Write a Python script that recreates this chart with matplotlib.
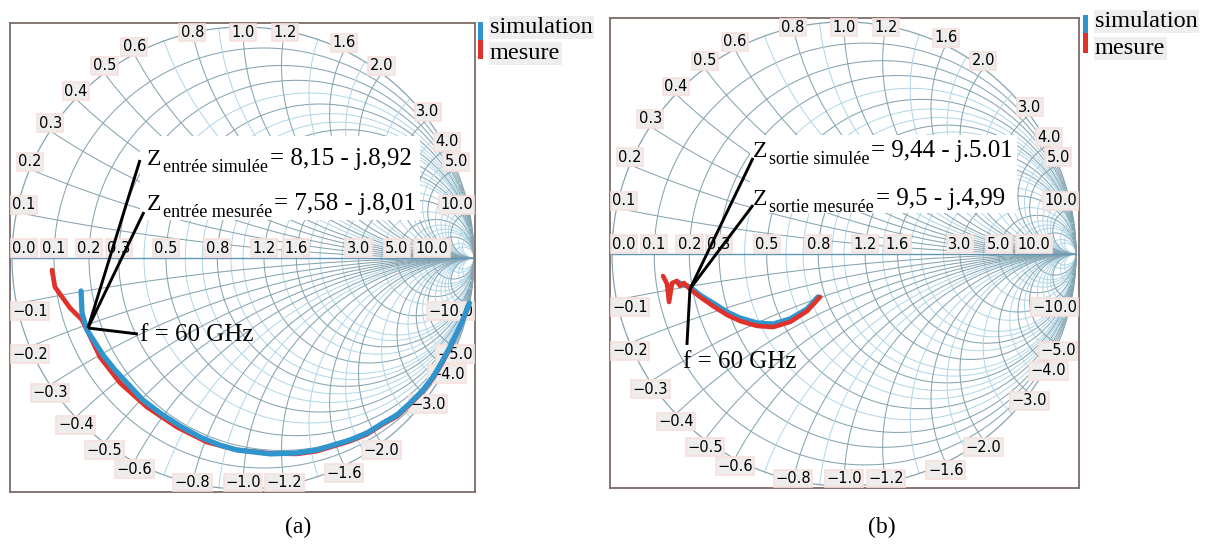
import numpy as np
import matplotlib
matplotlib.use("Agg")
import matplotlib.pyplot as plt
from matplotlib.patches import Rectangle

SERIF = "Liberation Serif"
SANS = "DejaVu Sans"
SIM_COLOR = "#2f95cf"
MES_COLOR = "#e0322b"
GRID_MAJOR = "#86a4b0"
GRID_MINOR = "#afd5e7"

# Smith chart grid values (normalised impedance)
r_major = [0.1, 0.2, 0.3, 0.5, 0.8, 1.2, 1.6, 3.0, 5.0, 10.0]
r_minor = [0.4, 0.6, 0.7, 0.9, 1.0, 1.4, 1.8, 2.0, 2.5, 4.0, 6.0, 7.0, 8.0, 15.0, 20.0]
x_major = [0.1, 0.2, 0.3, 0.4, 0.5, 0.6, 0.8, 1.0, 1.2, 1.6, 2.0, 3.0, 4.0, 5.0, 10.0]
x_minor = [0.7, 0.9, 1.4, 1.8, 2.5, 3.5, 4.5, 6.0, 7.0, 8.0, 9.0, 15.0, 20.0]

# (a) input reflection coefficient (Re, Im of gamma)
a_sim_re = [-0.701, -0.697, -0.675, -0.606, -0.554, -0.502, -0.433, -0.359, -0.273,
            -0.186, -0.100, -0.026, 0.117, 0.234, 0.320, 0.463, 0.537, 0.606, 0.667,
            0.723, 0.775, 0.823, 0.861, 0.896, 0.952, 0.980]
a_sim_im = [-0.143, -0.238, -0.312, -0.420, -0.485, -0.541, -0.615, -0.671, -0.727,
            -0.775, -0.810, -0.831, -0.848, -0.844, -0.831, -0.788, -0.758, -0.714, -0.680,
            -0.628, -0.576, -0.515, -0.450, -0.385, -0.268, -0.195]
a_mes_re = [-0.827, -0.814, -0.749, -0.697, -0.675, -0.619, -0.532, -0.416, -0.286,
            -0.156, -0.026, 0.117, 0.234, 0.320, 0.463, 0.537, 0.606, 0.667, 0.723,
            0.775, 0.823, 0.861, 0.896, 0.950, 0.978]
a_mes_im = [-0.052, -0.126, -0.216, -0.268, -0.312, -0.429, -0.541, -0.645, -0.732,
            -0.797, -0.831, -0.846, -0.848, -0.836, -0.793, -0.763, -0.719, -0.685, -0.633,
            -0.580, -0.520, -0.456, -0.390, -0.273, -0.200]
a_f60 = (-0.671, -0.303)

# (b) output reflection coefficient
b_sim_re = [-0.720, -0.664, -0.621, -0.565, -0.504, -0.448, -0.375, -0.306, -0.233, -0.159, -0.112]
b_sim_im = [-0.121, -0.142, -0.177, -0.211, -0.250, -0.276, -0.297, -0.302, -0.280, -0.237, -0.185]
b_mes_re = [-0.780, -0.763, -0.754, -0.741, -0.720, -0.707, -0.690, -0.664, -0.621,
            -0.565, -0.504, -0.448, -0.375, -0.306, -0.233, -0.159, -0.103]
b_mes_im = [-0.095, -0.129, -0.207, -0.125, -0.116, -0.138, -0.125, -0.151, -0.185,
            -0.224, -0.263, -0.289, -0.310, -0.315, -0.293, -0.246, -0.185]
b_f60 = (-0.664, -0.151)

a_names = ["entrée simulée", "entrée mesurée"]
a_values = ["= 8,15 - j.8,92", "= 7,58 - j.8,01"]
b_names = ["sortie simulée", "sortie mesurée"]
b_values = ["= 9,44 - j.5.01", "= 9,5 - j.4,99"]
freq_label = "f = 60 GHz"
legend_labels = ["simulation", "mesure"]
panel_tags = ["(a)", "(b)"]

W, H = 1207, 551


def gamma(z):
    return (z - 1) / (z + 1)


def draw_grid(ax):
    t = np.linspace(0, 2 * np.pi, 500)
    rr = np.concatenate([np.linspace(0, 2, 300), np.logspace(np.log10(2), 4, 300)])
    for vals, col, lw in ((r_minor, GRID_MINOR, 0.7), (r_major, GRID_MAJOR, 0.75)):
        for r in vals:
            c, rad = r / (1 + r), 1 / (1 + r)
            ax.plot(c + rad * np.cos(t), rad * np.sin(t), color=col, lw=lw, zorder=1)
    for vals, col, lw in ((x_minor, GRID_MINOR, 0.7), (x_major, GRID_MAJOR, 0.75)):
        for x in vals:
            for s in (1, -1):
                g = gamma(rr + 1j * s * x)
                ax.plot(g.real, g.imag, color=col, lw=lw, zorder=1)
    ax.plot(np.cos(t), np.sin(t), color=GRID_MAJOR, lw=0.9, zorder=1)
    ax.plot([-1, 1], [0, 0], color="#5f95b8", lw=1.0, zorder=1.5)


def draw_labels(ax):
    texts = []
    box = dict(boxstyle="square,pad=0.1", fc="#efecec", ec="#f7e0dc", lw=1.2)
    for x in x_major:
        for s in (1, -1):
            g = gamma(1j * s * x)
            lab = ("%.1f" % x) if s > 0 else ("\u2212%.1f" % x)
            texts.append(ax.text(g.real, g.imag, lab, ha="center",
                                 va="bottom" if s > 0 else "top",
                                 fontsize=10.5, family=SANS, bbox=box, zorder=3))
    for r in [0.0] + r_major:
        g = gamma(r)
        texts.append(ax.text(g, 0.01, "%.1f" % r, ha="center", va="bottom",
                             fontsize=10.5, family=SANS, bbox=box, zorder=3))
    return texts


def clamp(fig, ax, texts):
    fig.canvas.draw()
    rend = fig.canvas.get_renderer()
    box = ax.get_window_extent(rend)
    for t in texts:
        bb = t.get_window_extent(rend)
        dx = max(0, box.x0 + 2 - bb.x0) + min(0, box.x1 - 2 - bb.x1)
        dy = max(0, box.y0 + 2 - bb.y0) + min(0, box.y1 - 2 - bb.y1)
        if dx or dy:
            p = ax.transData.transform(t.get_position())
            t.set_position(ax.transData.inverted().transform(p + np.array([dx, dy])))


def annotate(ax, f60, names, values, lay):
    ax.add_patch(Rectangle(lay["mask"][:2], lay["mask"][2], lay["mask"][3],
                           fc="white", ec="none", zorder=4))
    for i in range(2):
        zb = lay["z_base"][i]
        t1 = ax.text(lay["z_x"], zb, "Z", fontsize=17, family=SERIF,
                     va="baseline", ha="left", zorder=7)
        t2 = ax.annotate(names[i], xy=(1, zb), xycoords=(t1, "data"), xytext=(1, -5),
                         textcoords="offset points", fontsize=13, family=SERIF,
                         va="baseline", ha="left", zorder=7)
        ax.annotate(values[i], xy=(1, zb), xycoords=(t2, "data"), xytext=(1.5, 0),
                    textcoords="offset points", fontsize=18, family=SERIF,
                    va="baseline", ha="left", zorder=7)
        ex, ey = lay["leads"][i]
        ax.plot([f60[0], ex], [f60[1], ey], color="k", lw=2.1, zorder=6,
                solid_capstyle="butt")
    ex, ey = lay["f_lead"]
    ax.plot([f60[0], ex], [f60[1], ey], color="k", lw=2.1, zorder=6,
            solid_capstyle="butt")
    ax.text(lay["f_text"][0], lay["f_text"][1], freq_label, fontsize=18,
            family=SERIF, va="baseline", ha="left", zorder=7)


def make_axes(fig, cx, cy, R, box):
    x0, y0, x1, y1 = box
    ax = fig.add_axes([x0 / W, 1 - y1 / H, (x1 - x0) / W, (y1 - y0) / H])
    ax.set_xlim((x0 - cx) / R, (x1 - cx) / R)
    ax.set_ylim((cy - y1) / R, (cy - y0) / R)
    ax.set_xticks([])
    ax.set_yticks([])
    for s in ax.spines.values():
        s.set_color("#7d6b68")
        s.set_linewidth(1.3)
    return ax


def legend(fig, bar_x, bar_top, bar_mid, bar_bot, text_x, base1, base2):
    for (ya, yb), col in (((bar_top, bar_mid), SIM_COLOR), ((bar_mid, bar_bot), MES_COLOR)):
        fig.add_artist(Rectangle((bar_x / W, 1 - yb / H), 5 / W, (yb - ya) / H,
                                 transform=fig.transFigure, fc=col, ec="none"))
    lb = dict(boxstyle="square,pad=0.05", fc="#eeeeee", ec="none")
    fig.text(text_x / W, 1 - base1 / H, legend_labels[0], fontsize=17.5, family=SERIF,
             va="baseline", bbox=lb)
    fig.text(text_x / W, 1 - base2 / H, legend_labels[1], fontsize=17.5, family=SERIF,
             va="baseline", bbox=lb)


fig = plt.figure(figsize=(W / 100, H / 100), dpi=100)

# panel (a)
ax_a = make_axes(fig, 243, 258, 231, (10, 23, 475, 492))
draw_grid(ax_a)
labs_a = draw_labels(ax_a)
ax_a.plot(a_mes_re, a_mes_im, color=MES_COLOR, lw=3.4, zorder=5, solid_capstyle="round")
ax_a.plot(a_sim_re, a_sim_im, color=SIM_COLOR, lw=3.8, zorder=5.1, solid_capstyle="round")
annotate(ax_a, a_f60, a_names, a_values,
         dict(mask=(-0.446, 0.165, 1.212, 0.363), z_x=-0.416, z_base=[0.403, 0.208],
              leads=[(-0.446, 0.424), (-0.429, 0.199)], f_lead=(-0.455, -0.329),
              f_text=(-0.446, -0.359)))

# panel (b)
ax_b = make_axes(fig, 844, 254, 232, (610, 18, 1079, 488))
draw_grid(ax_b)
labs_b = draw_labels(ax_b)
ax_b.plot(b_sim_re, b_sim_im, color=SIM_COLOR, lw=3.8, zorder=5, solid_capstyle="round")
ax_b.plot(b_mes_re, b_mes_im, color=MES_COLOR, lw=3.3, zorder=5.1, solid_capstyle="round")
annotate(ax_b, b_f60, b_names, b_values,
         dict(mask=(-0.405, 0.177, 1.151, 0.336), z_x=-0.392, z_base=[0.418, 0.211],
              leads=[(-0.392, 0.414), (-0.392, 0.211)], f_lead=(-0.677, -0.392),
              f_text=(-0.694, -0.491)))

legend(fig, 478, 22, 40, 59, 490, 33, 59)
legend(fig, 1083, 15, 33, 53, 1095, 27, 54)

fig.text(298 / W, 1 - 527 / H, panel_tags[0], fontsize=17, family=SERIF, ha="center", va="center")
fig.text(882 / W, 1 - 527 / H, panel_tags[1], fontsize=17, family=SERIF, ha="center", va="center")

clamp(fig, ax_a, labs_a)
clamp(fig, ax_b, labs_b)

fig.savefig("out.png", dpi=100)
